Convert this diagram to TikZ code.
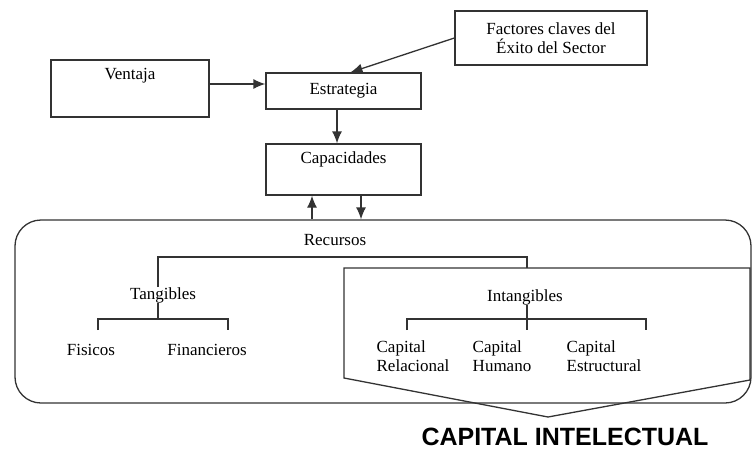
\documentclass[tikz,border=0pt]{standalone}
\usepackage{fontspec}
\setmainfont{Liberation Serif}
\newfontfamily\capfont{Liberation Sans}
\usetikzlibrary{arrows.meta,positioning}

\begin{document}
\begin{tikzpicture}[x=1pt,y=-1pt,
  box/.style={draw=black!80,line width=1.3pt,inner sep=0pt,align=center,font=\fontsize{17}{19}\selectfont},
  txt/.style={inner sep=0pt,align=left,font=\fontsize{17}{19}\selectfont},
  frame/.style={draw=black!80,line width=1.3pt,inner sep=0pt},
  link/.style={draw=black!80,line width=1.3pt},
  arrow/.style={-{Latex[length=12pt,width=10pt]},draw=black!80,line width=1.3pt}
]
\useasboundingbox (0,0) rectangle (752,450);
\node[box,minimum width=158pt,minimum height=57pt,
  label={[txt,anchor=north,yshift=-9pt]north:Ventaja}] (ventaja) at (130,88.5) {};
\node[box,minimum width=155pt,minimum height=36pt] (estrategia) at (343.5,91) {Estrategia};
\node[box,minimum width=192pt,minimum height=54pt] (factores) at (551,38) {Factores claves del\\Éxito del Sector};
\node[box,minimum width=155pt,minimum height=51pt,
  label={[txt,anchor=north,yshift=-8pt]north:Capacidades}] (capacidades) at (343.5,169.5) {};
\node[frame,rounded corners=26pt,minimum width=736pt,minimum height=183pt] (recursos) at (383,311.5) {};
\node[txt] (recursosTxt) at (335,240) {Recursos};
% capital intelectual
\draw[link] (344,268) -- (750,268) -- (750,380) -- (548,417) -- (344,378) -- cycle;
\coordinate (intTop) at (527,268);
\coordinate (forkY) at (0,257);
\node[txt] (tangibles) at (163,295) {Tangibles};
\node[txt] (intangibles) at (525,297) {Intangibles};
\node[txt] (fisicos) at (91,350) {Fisicos};
\node[txt] (financieros) at (207,350) {Financieros};
\node[txt] (relacional) at (413,356) {Capital\\Relacional};
\node[txt] (humano) at (502,356) {Capital\\Humano};
\node[txt] (estructural) at (604,356) {Capital\\Estructural};
\node[inner sep=0pt,font=\capfont\bfseries\fontsize{25}{28}\selectfont] (capital) at (565,437) {CAPITAL INTELECTUAL};
\coordinate (tanL) at (98,330);
\coordinate (tanBar) at (158,319);
\coordinate (tanR) at (228,330);
\coordinate (intL) at (407,330);
\coordinate (intBar) at (527,319);
\coordinate (intR) at (646,330);
\coordinate (intMid) at (527,330);
\draw[arrow] ([yshift=4.5pt]ventaja.east) -- ([yshift=4.5pt]ventaja.east -| estrategia.west);
\draw[arrow] (factores.west) -- ([xshift=7pt]estrategia.north);
\draw[arrow] ([xshift=-6.5pt]estrategia.south) -- ([xshift=-6.5pt]capacidades.north);
\draw[arrow] ([xshift=-31.5pt]capacidades.south |- recursos.north) -- ([xshift=-31.5pt]capacidades.south);
\draw[arrow] ([xshift=17.5pt]capacidades.south) -- ([xshift=17.5pt]capacidades.south |- recursos.north);
\draw[link] ([xshift=-5pt]tangibles.north) -- ([xshift=-5pt]tangibles.north |- forkY) -| (intTop);
\draw[link] ([xshift=-5pt]tangibles.south) -- (tanBar);
\draw[link] (tanL) |- (tanBar) -| (tanR);
\draw[link] (intangibles.south -| intBar) -- (intMid);
\draw[link] (intL) |- (intBar) -| (intR);
\end{tikzpicture}
\end{document}
